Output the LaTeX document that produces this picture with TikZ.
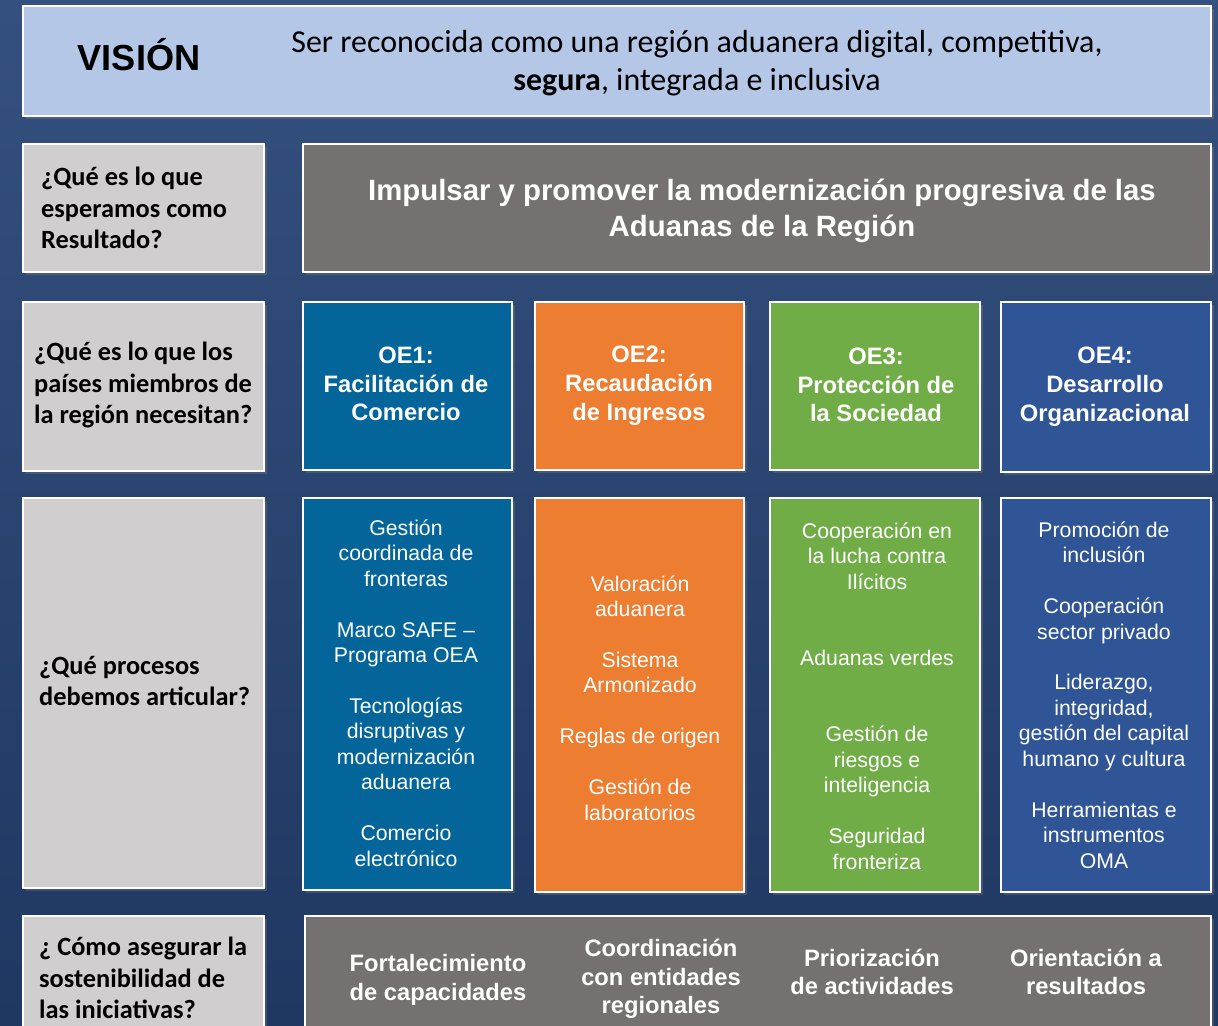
\documentclass[tikz,border=0pt]{standalone}
\usepackage{fontspec}
\setmainfont{Liberation Sans}
\newfontfamily\calibri{Carlito}
\usetikzlibrary{shadows}

\definecolor{fondo}{HTML}{2B4574}
\definecolor{fondoalto}{HTML}{34507E}
\definecolor{fondobajo}{HTML}{1F3862}
\definecolor{vision}{HTML}{B4C7E7}
\definecolor{pregunta}{HTML}{D0CECE}
\definecolor{grisoscuro}{HTML}{767171}
\definecolor{azuloe}{HTML}{036599}
\definecolor{naranjaoe}{HTML}{ED7D31}
\definecolor{verdeoe}{HTML}{70AD47}
\definecolor{marinooe}{HTML}{2F5597}

\tikzset{
  caja/.style={draw=white,line width=1.5pt,drop shadow={opacity=0.35,shadow xshift=1.5pt,shadow yshift=-1.5pt}},
  preg/.style={anchor=west,align=left,font=\calibri\bfseries\fontsize{15}{18.1}\selectfont,text=black},
  titulo/.style={align=center,font=\bfseries\fontsize{13.5}{16.4}\selectfont,text=white},
  lista/.style={align=center,font=\fontsize{12.1}{14.5}\selectfont,text=white}
}

\begin{document}
\begin{tikzpicture}[x=0.02cm,y=-0.02cm]
  % fondo
  \shade[top color=fondoalto,bottom color=fondobajo] (0,0) rectangle (1218,1026);
  \useasboundingbox (0,0) rectangle (1218,1026);

  % vision
  \draw[caja,fill=vision] (23,6) rectangle (1211,116);
  \node(vis)at(139,55){\bfseries\fontsize{20.6}{24}\selectfont VISIÓN};
  \node(frase)at(697,63)[align=center,font=\calibri\fontsize{18.2}{21.5}\selectfont]
    {Ser reconocida como una región aduanera digital, competitiva,\\
     \textbf{segura}, integrada e inclusiva};

  % resultado
  \draw[caja,fill=pregunta] (23,144) rectangle (264,272);
  \node(q1)at(35,208)[preg]{¿Qué es lo que\\esperamos como\\Resultado?};
  \draw[caja,fill=grisoscuro] (303,144) rectangle (1211,272);
  \node(res)at(762,211)[align=center,text=white,font=\bfseries\fontsize{16.7}{20.4}\selectfont]
    {Impulsar y promover la modernización progresiva de las\\Aduanas de la Región};

  % objetivos
  \draw[caja,fill=pregunta] (23,302) rectangle (264,471);
  \node(q2)at(28,385)[preg]{¿Qué es lo que los\\países miembros de\\la región necesitan?};
  \draw[caja,fill=azuloe] (303,302) rectangle (512,470);
  \draw[caja,fill=naranjaoe] (535,302) rectangle (744,470);
  \draw[caja,fill=verdeoe] (770,302) rectangle (980,470);
  \draw[caja,fill=marinooe] (1001,302) rectangle (1211,472);
  \node(oe1)at(406,384)[titulo]{OE1:\\Facilitación de\\Comercio};
  \node(oe2)at(639,386)[titulo]{OE2:\\Recaudación\\de Ingresos};
  \node(oe3)at(876,385)[titulo]{OE3:\\Protección de\\la Sociedad};
  \node(oe4)at(1105,387)[titulo]{OE4:\\Desarrollo\\Organizacional};

  % procesos
  \draw[caja,fill=pregunta] (23,498) rectangle (264,888);
  \node(q3)at(33,681)[preg]{¿Qué procesos\\debemos articular?};
  \draw[caja,fill=azuloe] (303,498) rectangle (512,890);
  \draw[caja,fill=naranjaoe] (535,498) rectangle (744,892);
  \draw[caja,fill=verdeoe] (770,498) rectangle (980,892);
  \draw[caja,fill=marinooe] (1001,498) rectangle (1211,892);
  \node(p1)at(406,693)[lista]{Gestión\\coordinada de\\fronteras\\[14.5pt]
    Marco SAFE –\\Programa OEA\\[14.5pt]
    Tecnologías\\disruptivas y\\modernización\\aduanera\\[14.5pt]
    Comercio\\electrónico};
  \node(p2)at(640,698)[lista]{Valoración\\aduanera\\[14.5pt]
    Sistema\\Armonizado\\[14.5pt]
    Reglas de origen\\[14.5pt]
    Gestión de\\laboratorios};
  \node(p3)at(877,696)[lista]{Cooperación en\\la lucha contra\\Ilícitos\\[29pt]
    Aduanas verdes\\[29pt]
    Gestión de\\riesgos e\\inteligencia\\[14.5pt]
    Seguridad\\fronteriza};
  \node(p4)at(1104,695)[lista]{Promoción de\\inclusión\\[14.5pt]
    Cooperación\\sector privado\\[14.5pt]
    Liderazgo,\\integridad,\\gestión del capital\\humano y cultura\\[14.5pt]
    Herramientas e\\instrumentos\\OMA};

  % sostenibilidad
  \draw[caja,fill=pregunta] (23,916) rectangle (264,1040);
  \node(q4)at(33,978)[preg]{¿ Cómo asegurar la\\sostenibilidad de\\las iniciativas?};
  \draw[caja,fill=grisoscuro] (305,916) rectangle (1211,1040);
  \node(s1)at(438,980)[titulo]{Fortalecimiento\\de capacidades};
  \node(s2)at(661,979)[titulo]{Coordinación\\con entidades\\regionales};
  \node(s3)at(872,972)[titulo]{Priorización\\de actividades};
  \node(s4)at(1086,972)[titulo]{Orientación a\\resultados};
\end{tikzpicture}
\end{document}
